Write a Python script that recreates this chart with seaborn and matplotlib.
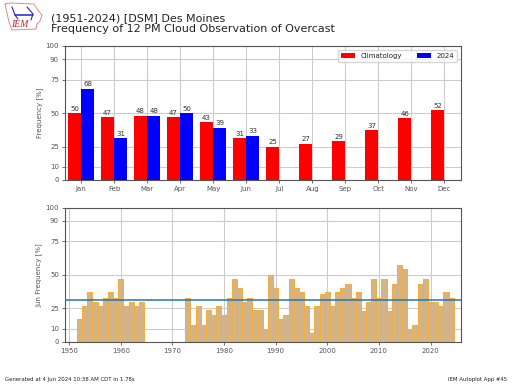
import matplotlib
matplotlib.use('Agg')
import matplotlib.pyplot as plt
import numpy as np
import pandas as pd
import seaborn as sns

months = ['Jan', 'Feb', 'Mar', 'Apr', 'May', 'Jun', 'Jul', 'Aug', 'Sep', 'Oct', 'Nov', 'Dec']
climo = [50, 47, 48, 47, 43, 31, 25, 27, 29, 37, 46, 52]
this_year = [68, 31, 48, 50, 39, 33]
yticks = [0, 10, 25, 50, 75, 90, 100]

years_a = list(range(1952, 1965))
freq_a = [17, 27, 37, 30, 27, 33, 37, 33, 47, 27, 30, 27, 30]
years_b = list(range(1973, 2025))
freq_b = [33, 13, 27, 13, 24, 20, 27, 20, 33, 47, 40, 30, 33, 24, 24, 10, 50, 40, 17, 20,
          47, 40, 37, 27, 7, 27, 36, 37, 27, 37, 40, 43, 33, 37, 23, 30, 47, 33, 47, 23,
          43, 57, 54, 10, 13, 43, 47, 30, 30, 27, 37, 33]
june_climo = 31

GRAY = '#555555'
sns.set_style('whitegrid', {'axes.edgecolor': GRAY, 'grid.color': '#cccccc',
                            'xtick.bottom': True, 'ytick.left': True,
                            'xtick.color': GRAY, 'ytick.color': GRAY,
                            'axes.labelcolor': GRAY, 'text.color': '#222222'})
plt.rcParams['font.family'] = ['DejaVu Sans']

W, H = 512, 384
fig = plt.figure(figsize=(W / 100, H / 100), dpi=100)


def px_axes(left, top, right, bottom):
    return fig.add_axes([left / W, 1 - bottom / H, (right - left) / W, (bottom - top) / H])


# monthly panel
ax = px_axes(64.5, 46, 461, 180)
df = pd.DataFrame({
    'month': list(range(12)) + list(range(len(this_year))),
    'freq': climo + this_year,
    'series': ['Climatology'] * 12 + ['2024'] * len(this_year),
})
sns.barplot(data=df, x='month', y='freq', hue='series', hue_order=['Climatology', '2024'],
            palette={'Climatology': 'red', '2024': 'blue'}, native_scale=True,
            width=0.8, saturation=1, linewidth=0, ax=ax)
for cont in ax.containers:
    ax.bar_label(cont, fontsize=5, padding=1, color='#333333')
ax.set_xlim(-0.5, 11.5)
ax.set_ylim(0, 100)
ax.set_xticks(range(12))
ax.set_xticklabels(months)
ax.set_yticks(yticks)
ax.set_xlabel('')
ax.set_ylabel('Frequency [%]', fontsize=5, labelpad=2)
ax.legend(loc='upper right', ncol=2, fontsize=5, columnspacing=2.2, handlelength=2,
          borderaxespad=0.6, title=None)

# yearly panel
ax2 = px_axes(64.5, 207.5, 461, 342)
df2 = pd.DataFrame({'year': years_a + years_b, 'freq': freq_a + freq_b})
sns.barplot(data=df2, x='year', y='freq', native_scale=True, width=1.0, color='tan',
            saturation=1, edgecolor='#f5ae3a', linewidth=0.8, ax=ax2)
ax2.axhline(june_climo, color='tab:blue', lw=1.1, zorder=5)
ax2.set_xlim(1949.1, 2025.9)
ax2.set_ylim(0, 100)
ax2.set_xticks(np.arange(1950, 2021, 10))
ax2.set_yticks(yticks)
ax2.set_xlabel('')
ax2.set_ylabel('Jun Frequency [%]', fontsize=5, labelpad=2)

for a in (ax, ax2):
    a.set_axisbelow(True)
    a.grid(True, color='#cccccc', lw=0.8)
    a.tick_params(labelsize=5, length=2, width=0.6, pad=2)
    for s in a.spines.values():
        s.set_linewidth(0.8)
        s.set_color(GRAY)

# titles and footer
fig.text(51 / W, 1 - 18 / H, '(1951-2024) [DSM] Des Moines', fontsize=8, va='center')
fig.text(51 / W, 1 - 29.5 / H, 'Frequency of 12 PM Cloud Observation of Overcast', fontsize=8, va='center')
fig.text(5 / W, 1 - 379 / H, 'Generated at 4 Jun 2024 10:38 AM CDT in 1.78s', fontsize=3.9, va='center')
fig.text(507 / W, 1 - 379 / H, 'IEM Autoplot App #45', fontsize=3.9, va='center', ha='right')

# IEM logo
logo = px_axes(4, 2, 44, 32)
logo.set_xlim(4, 44)
logo.set_ylim(32, 2)
logo.axis('off')
logo.plot([5, 10, 34, 37, 42, 40, 37, 36, 12, 9, 5], [4, 3, 4, 9, 15, 21, 24, 29, 30, 22, 4],
          color='#e08a8a', lw=0.7)
logo.plot([15, 33], [15, 15], color='#2222cc', lw=1.1)
logo.plot([12, 15, 18], [7, 15, 19], color='#2222cc', lw=0.8)
logo.plot([27, 33, 31], [7, 14, 20], color='#2222cc', lw=0.8)
logo.text(20, 24.5, 'IEM', color='#cc2222', fontsize=7, style='italic',
          family='Liberation Serif', ha='center', va='center')

fig.savefig('out.png', dpi=100)
